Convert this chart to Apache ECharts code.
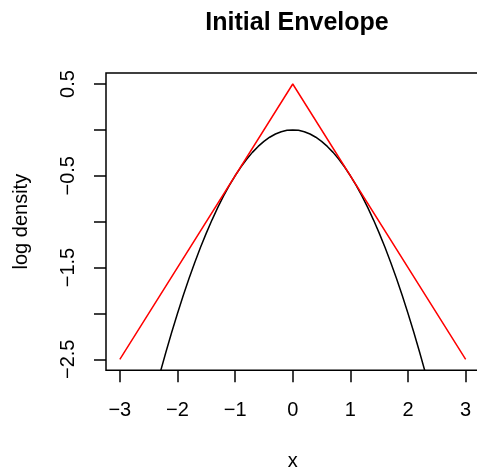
<!DOCTYPE html>
<html>
<head>
<meta charset="utf-8">
<script src="https://cdn.jsdelivr.net/npm/echarts@6/dist/echarts.min.js"></script>
<style>
  html, body { margin: 0; padding: 0; background: #fff; }
  #chart { width: 477px; height: 469px; }
</style>
</head>
<body>
<div id="chart"></div>
<script>
// Piecewise-linear envelope built from tangents at x = -1 and x = 1
const envelopeX = [-3, 0, 3];
const envelopeY = [-2.5, 0.5, -2.5];

// Log density of the target (unnormalised standard normal)
const curveX = [-2.4, -2.3, -2.2, -2.1, -2.0, -1.9, -1.8, -1.7, -1.6, -1.5, -1.4, -1.3, -1.2, -1.1, -1.0,
  -0.9, -0.8, -0.7, -0.6, -0.5, -0.4, -0.3, -0.2, -0.1, 0,
  0.1, 0.2, 0.3, 0.4, 0.5, 0.6, 0.7, 0.8, 0.9, 1.0, 1.1, 1.2, 1.3, 1.4, 1.5,
  1.6, 1.7, 1.8, 1.9, 2.0, 2.1, 2.2, 2.3, 2.4];
const curveY = [-2.88, -2.645, -2.42, -2.205, -2, -1.805, -1.62, -1.445, -1.28, -1.125, -0.98, -0.845, -0.72, -0.605, -0.5,
  -0.405, -0.32, -0.245, -0.18, -0.125, -0.08, -0.045, -0.02, -0.005, 0,
  -0.005, -0.02, -0.045, -0.08, -0.125, -0.18, -0.245, -0.32, -0.405, -0.5, -0.605, -0.72, -0.845, -0.98, -1.125,
  -1.28, -1.445, -1.62, -1.805, -2, -2.205, -2.42, -2.645, -2.88];

// Axis ticks and labels
const xTicks = [-3, -2, -1, 0, 1, 2, 3];
const yTicks = [-2.5, -2, -1.5, -1, -0.5, 0, 0.5];
const yLabels = [-2.5, -1.5, -0.5, 0.5];

const FONT = "'Liberation Sans', Arial, Helvetica, sans-serif";
const fmt = v => (v < 0 ? '\u2212' + String(Math.abs(v)) : String(v));
const zip = (xs, ys) => xs.map((x, i) => [x, ys[i]]);

const chart = echarts.init(document.getElementById('chart'), null, { renderer: 'canvas' });
chart.setOption({
  animation: false,
  backgroundColor: '#ffffff',
  title: {
    text: 'Initial Envelope',
    left: 292,
    top: 6,
    textAlign: 'center',
    textStyle: { fontFamily: FONT, fontSize: 25, fontWeight: 'bold', color: '#000' }
  },
  grid: {
    left: 106, top: 73, width: 373.5, height: 297.3,
    outerBoundsMode: 'none',
    containLabel: false,
    show: true, borderColor: '#000', borderWidth: 1.5, backgroundColor: 'transparent'
  },
  xAxis: {
    type: 'value',
    min: -3.24, max: 3.24,
    name: 'x',
    nameLocation: 'middle',
    nameGap: 81,
    nameTextStyle: { fontFamily: FONT, fontSize: 20, color: '#000' },
    axisLine: { show: false, onZero: false },
    splitLine: { show: false },
    axisTick: { show: true, inside: false, length: 12, customValues: xTicks, lineStyle: { color: '#000', width: 1.5 } },
    axisLabel: { customValues: xTicks, formatter: fmt, margin: 30, fontFamily: FONT, fontSize: 20, color: '#000' }
  },
  yAxis: {
    type: 'value',
    min: -2.62, max: 0.62,
    name: 'log density',
    nameLocation: 'middle',
    nameRotate: 90,
    nameGap: 75,
    nameTextStyle: { fontFamily: FONT, fontSize: 20, color: '#000' },
    axisLine: { show: false, onZero: false },
    splitLine: { show: false },
    axisTick: { show: true, inside: false, length: 12, customValues: yTicks, lineStyle: { color: '#000', width: 1.5 } },
    axisLabel: { customValues: yLabels, formatter: fmt, rotate: 90, margin: 28, fontFamily: FONT, fontSize: 20, color: '#000' }
  },
  series: [
    {
      type: 'line',
      data: zip(curveX, curveY),
      symbol: 'none',
      clip: true,
      lineStyle: { color: '#000', width: 1.5 },
      z: 3
    },
    {
      type: 'line',
      data: zip(envelopeX, envelopeY),
      symbol: 'none',
      clip: true,
      lineStyle: { color: '#ff0000', width: 1.5 },
      z: 4
    }
  ]
});
</script>
</body>
</html>
